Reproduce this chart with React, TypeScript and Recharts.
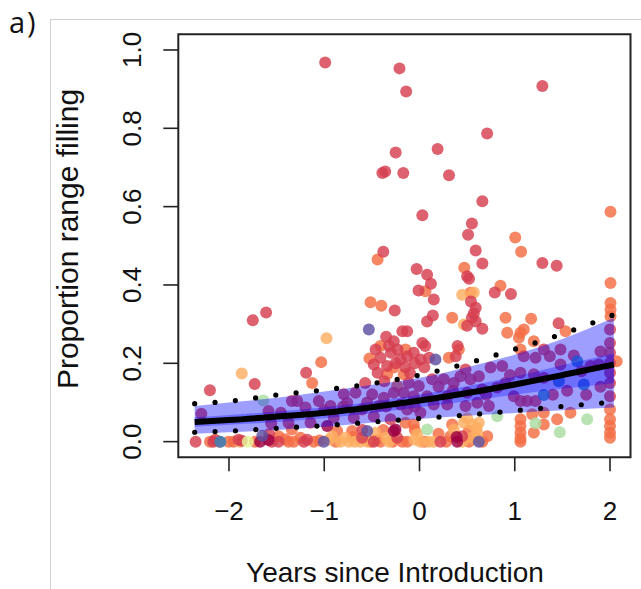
import { ComposedChart, Scatter, Area, Line, XAxis, YAxis, ReferenceArea } from "recharts";

// observed points, [years since introduction, proportion range filling]
const redPts: [number, number][] = [
  [-0.99, 0.968], [-0.21, 0.953], [-0.14, 0.894], [-0.25, 0.738], [-0.39, 0.686], [-0.36, 0.69],
  [-0.17, 0.686], [-0.38, 0.485], [1.29, 0.908], [0.71, 0.787], [0.19, 0.747], [0.31, 0.68],
  [0.66, 0.614], [0.03, 0.578], [0.55, 0.557], [0.51, 0.528], [0.59, 0.488], [0.66, 0.455],
  [-0.03, 0.441], [0.08, 0.426], [0.5, 0.422], [0.52, 0.416], [0.12, 0.403], [-0.01, 0.386],
  [0.79, 0.381], [0.96, 0.377], [0.15, 0.363], [0.54, 0.358], [0.59, 0.342], [0.57, 0.327],
  [0.14, 0.322], [0.08, 0.307], [0.55, 0.316], [0.59, 0.307], [0.5, 0.296], [0.66, 0.288],
  [-0.13, 0.282], [0.03, 0.252], [0.06, 0.244], [-0.06, 0.227], [-0.13, 0.218], [0.01, 0.21],
  [0.1, 0.214], [0.4, 0.244], [0.38, 0.218], [1.29, 0.456], [1.44, 0.449], [1.46, 0.302],
  [-1.61, 0.33], [-1.75, 0.31], [-1.73, 0.147], [-2.2, 0.131], [-0.26, 0.335], [-0.35, 0.268],
  [-0.27, 0.256], [-0.18, 0.282], [-0.46, 0.235], [-0.23, 0.235], [-0.3, 0.227], [-0.41, 0.214],
  [-0.2, 0.21], [-0.48, 0.197], [-0.34, 0.193], [-1.19, 0.176], [-0.44, 0.176], [-0.57, 0.15],
  [-0.37, 0.154], [-0.32, 0.245], [-0.25, 0.2], [-0.15, 0.19], [-0.05, 0.2], [0.05, 0.19],
  [-0.1, 0.175],
];

// red points that sit under the interval band
const midPts: [number, number][] = [
  [-2.29, 0.071], [-1.585, 0.078], [-1.557, 0.047], [-1.455, 0.074], [-1.34, 0.104], [-1.375, 0.048],
  [-1.284, 0.104], [-1.057, 0.104], [-0.795, 0.121], [-0.672, 0.125], [-0.497, 0.121], [-0.374, 0.112],
  [-0.27, 0.125], [-0.759, 0.099], [-0.934, 0.091], [-1.197, 0.087], [-0.602, 0.082], [-0.427, 0.091],
  [-0.2, 0.095], [-1.144, 0.048], [-0.9, 0.061], [-0.69, 0.061], [-0.48, 0.065], [-0.304, 0.057],
  [-0.112, 0.15], [-0.007, 0.142], [0.133, 0.159], [0.255, 0.159], [0.36, 0.15], [0.483, 0.184],
  [0.623, 0.167], [0.746, 0.189], [0.868, 0.193], [0.535, 0.159], [0.43, 0.167], [-0.165, 0.125],
  [-0.06, 0.116], [0.081, 0.116], [0.291, 0.116], [0.501, 0.125], [0.658, 0.133], [0.816, 0.138],
  [0.15, 0.095], [0.291, 0.095], [0.483, 0.091], [0.606, 0.099], [0.728, 0.091], [-0.129, 0.082],
  [0.01, 0.074], [1.095, 0.218], [1.218, 0.214], [1.305, 0.235], [1.368, 0.218], [1.48, 0.235],
  [1.48, 0.197], [1.795, 0.193], [1.882, 0.197], [1.06, 0.176], [1.2, 0.172], [1.305, 0.163],
  [0.99, 0.116], [1.13, 0.104], [1.218, 0.104], [1.06, 0.104], [2.0, 0.286], [2.0, 0.252],
  [2.0, 0.227], [2.0, 0.201], [2.0, 0.176], [2.0, 0.15], [2.0, 0.116],
  [1.62, 0.22], [1.7, 0.18], [1.9, 0.23], [1.55, 0.13], [1.75, 0.12], [1.9, 0.14], [1.4, 0.12],
  [0.9, 0.15], [0.7, 0.12], [0.95, 0.17], [-0.8, 0.09], [-1.0, 0.08], [-0.55, 0.1], [-0.35, 0.09],
  [-0.05, 0.09], [0.35, 0.13], [0.2, 0.14],
];

const redLowPts: [number, number][] = [
  [-2.35, 0.0], [-2.165, 0.0], [-2.145, 0.005], [-1.866, 0.002], [-1.578, 0.019], [-1.48, 0.0],
  [-1.214, 0.0], [-0.602, 0.01], [-0.234, 0.01], [0.448, 0.014], [-2.1, 0.0], [-1.9, 0.005],
  [-1.55, 0.0], [-1.18, 0.005], [-0.48, 0.0], [0.22, 0.0], [-0.6, 0.03],
];

const orangePts: [number, number][] = [
  [-0.44, 0.465], [2.005, 0.587], [1.005, 0.521], [1.067, 0.485], [-0.514, 0.356], [-0.4, 0.347],
  [-0.41, 0.244], [-0.525, 0.212], [-1.032, 0.203], [-1.127, 0.15], [-0.34, 0.172], [-0.165, 0.172],
  [-0.234, 0.142], [-0.27, 0.189], [0.47, 0.444], [0.063, 0.384], [0.535, 0.38], [0.85, 0.398],
  [0.343, 0.316], [0.903, 0.316], [0.921, 0.278], [-0.147, 0.235], [0.308, 0.214], [0.413, 0.235],
  [2.005, 0.405], [1.172, 0.314], [1.095, 0.286], [1.06, 0.278], [1.043, 0.265], [1.2, 0.256],
  [1.533, 0.282], [2.005, 0.354], [2.005, 0.337], [2.005, 0.32], [1.06, 0.235], [2.07, 0.205],
  [1.183, 0.07], [1.305, 0.074], [1.585, 0.074], [1.445, 0.057], [1.305, 0.044], [1.2, 0.023],
  [1.06, 0.057], [1.06, 0.04], [1.06, 0.023], [1.06, 0.008], [1.06, 0.0], [2.0, 0.082],
  [2.0, 0.057], [2.0, 0.04], [2.0, 0.023], [2.0, 0.01], [-0.147, 0.048], [-0.06, 0.044],
  [0.343, 0.044], [0.518, 0.027], [0.711, 0.014], [0.325, 0.014], [-1.34, 0.031], [-1.41, 0.006],
  [-0.864, 0.027], [-0.707, 0.027], [-1.32, 0.0], [-1.11, 0.0], [-0.514, 0.0], [-0.409, 0.0],
  [-0.18, 0.0], [-0.129, 0.0], [-2.2, 0.0], [-2.005, 0.0], [-1.953, 0.0], [-1.726, 0.0],
  [-1.375, 0.0], [-1.48, 0.014], [-1.05, 0.003], [-0.88, 0.0], [-0.45, 0.005], [-0.28, 0.0],
  [0.05, 0.0], [0.28, 0.0], [0.52, 0.0], [0.58, 0.012], [0.66, 0.0], [-0.7, 0.012],
  [-1.25, 0.01], [-0.05, 0.03], [0.2, 0.02], [-0.38, 0.03],
];

const lightOrangePts: [number, number][] = [
  [-0.976, 0.264], [-1.866, 0.174], [0.448, 0.375], [0.57, 0.381], [0.466, 0.299], [-0.917, 0.014],
  [-0.829, 0.0], [-0.742, 0.0], [-0.322, 0.0], [-0.462, 0.023], [-0.024, 0.019], [0.01, 0.0],
  [0.098, 0.0], [0.36, 0.031], [0.466, 0.048], [0.553, 0.044], [0.623, 0.048], [0.606, 0.023],
  [-1.883, 0.0], [-0.62, 0.0], [-0.05, 0.005], [0.55, 0.01], [0.62, 0.005], [-0.95, 0.005],
  [-0.78, 0.01], [-0.55, 0.0], [-0.35, 0.01], [0.15, 0.0], [0.45, 0.0], [0.6, 0.035],
  [0.5, 0.06], [-0.68, 0.0],
];

const darkRedPts: [number, number][] = [
  [-1.673, 0.0], [-1.585, 0.004], [-0.969, 0.04], [-0.27, 0.027], [-0.252, 0.031], [0.396, 0.0], [0.39, 0.012],
];
const purplePts: [number, number][] = [
  [-0.532, 0.286], [0.168, 0.21], [-1.005, 0.0], [-0.549, 0.027], [0.623, 0.0], [-1.65, 0.015],
];
const bluePts: [number, number][] = [[-2.09, 0.0], [1.656, 0.205], [1.463, 0.154], [1.725, 0.146], [1.305, 0.119]];
const greenPts: [number, number][] = [[-1.64, 0.105], [0.816, 0.065], [0.081, 0.031], [1.218, 0.047], [1.76, 0.057], [1.473, 0.024]];
const yellowPts: [number, number][] = [[-1.803, 0.0]];

// fitted curve, intervals and dotted bounds, read at these x positions
const curveX = [-2.36, -2, -1.5, -1, -0.5, 0, 0.5, 1, 1.5, 2.04];
const fitY = [0.05, 0.055, 0.064, 0.074, 0.088, 0.105, 0.124, 0.146, 0.17, 0.197];
const outerLo = [0.02, 0.024, 0.03, 0.038, 0.048, 0.058, 0.066, 0.073, 0.08, 0.087];
const outerHi = [0.091, 0.1, 0.112, 0.128, 0.145, 0.163, 0.19, 0.222, 0.262, 0.316];
const innerLo = [0.038, 0.043, 0.05, 0.06, 0.073, 0.088, 0.103, 0.12, 0.135, 0.15];
const innerHi = [0.062, 0.068, 0.077, 0.088, 0.102, 0.12, 0.142, 0.166, 0.195, 0.225];
const dotHi = [0.097, 0.103, 0.119, 0.132, 0.148, 0.17, 0.2, 0.236, 0.275, 0.324];
const dotLo = [0.024, 0.027, 0.034, 0.041, 0.05, 0.059, 0.068, 0.079, 0.09, 0.101];

const xTicks = [-2, -1, 0, 1, 2];
const yTicks = [0, 0.2, 0.4, 0.6, 0.8, 1.0];

const FONT = "'Liberation Sans', Arial, sans-serif";

const toPts = (a: [number, number][]) => a.map(([x, y]) => ({ x, y }));

const curveData = curveX.map((x, i) => ({
  x,
  fit: fitY[i],
  outer: [outerLo[i], outerHi[i]],
  inner: [innerLo[i], innerHi[i]],
  hi: dotHi[i],
  lo: dotLo[i],
}));

const series = [
  { pts: orangePts, color: "#f46d43" },
  { pts: lightOrangePts, color: "#fdae61" },
  { pts: redLowPts, color: "#d53e4f" },
  { pts: redPts, color: "#d53e4f" },
  { pts: midPts, color: "#d53e4f" },
  { pts: darkRedPts, color: "#9e0142" },
  { pts: purplePts, color: "#5e4fa2" },
  { pts: bluePts, color: "#3288bd" },
  { pts: greenPts, color: "#abdda4" },
  { pts: yellowPts, color: "#e6f598" },
];

const XTick = ({ x, payload }: any) => (
  <text x={x} y={520} textAnchor="middle" fontSize={26} fontFamily={FONT} fill="#111">
    {payload.value < 0 ? "\u2212" + Math.abs(payload.value) : String(payload.value)}
  </text>
);

const YTick = ({ y, payload }: any) => (
  <text
    x={141.5}
    y={y}
    transform={`rotate(-90 141.5 ${y})`}
    textAnchor="middle"
    fontSize={26}
    fontFamily={FONT}
    fill="#111"
  >
    {payload.value.toFixed(1)}
  </text>
);

export default function App() {
  return (
    <div style={{ position: "absolute", left: 0, top: 0, width: 641, height: 589, background: "#fff" }}>
      <div
        style={{
          position: "absolute",
          left: 50,
          top: 19,
          width: 600,
          height: 580,
          borderLeft: "1px solid #cfcfcf",
          borderTop: "1px solid #cfcfcf",
        }}
      />
      <div
        style={{
          position: "absolute",
          left: 9,
          top: 7,
          fontFamily: "'Open Sans', sans-serif",
          fontSize: 29,
          lineHeight: 1,
          letterSpacing: 2,
          color: "#111",
        }}
      >
        a)
      </div>
      <div style={{ position: "absolute", left: 0, top: 0 }}>
        <ComposedChart width={641} height={589} margin={{ top: 34.3, right: 10.5, left: 0, bottom: 71.7 }}>
          <XAxis
            type="number"
            dataKey="x"
            domain={[-2.532, 2.215]}
            ticks={xTicks}
            allowDataOverflow
            height={60}
            axisLine={false}
            tickSize={14}
            tickLine={{ stroke: "#222", strokeWidth: 1.6 }}
            tick={<XTick />}
            label={{
              content: () => (
                <text x={395} y={582} textAnchor="middle" fontSize={28} fontFamily={FONT} fill="#111">
                  Years since Introduction
                </text>
              ),
            }}
          />
          <YAxis
            type="number"
            domain={[-0.04, 1.04]}
            ticks={yTicks}
            allowDataOverflow
            width={178.3}
            axisLine={false}
            tickSize={15}
            tickLine={{ stroke: "#222", strokeWidth: 1.6 }}
            tick={<YTick />}
            label={{
              content: () => (
                <text
                  x={78}
                  y={239}
                  transform="rotate(-90 78 239)"
                  textAnchor="middle"
                  fontSize={30}
                  fontFamily={FONT}
                  fill="#111"
                >
                  Proportion range filling
                </text>
              ),
            }}
          />
          {series.map((s, i) => (
            <Scatter
              key={i}
              data={toPts(s.pts)}
              dataKey="y"
              zIndex={100}
              isAnimationActive={false}
              shape={(p: any) => <circle cx={p.cx} cy={p.cy} r={6} fill={s.color} fillOpacity={0.82} />}
            />
          ))}
          <Area
            data={curveData}
            dataKey="outer"
            type="monotone"
            stroke="none"
            fill="#0000ff"
            fillOpacity={0.38}
            zIndex={200}
            isAnimationActive={false}
          />
          <Area
            data={curveData}
            dataKey="inner"
            type="monotone"
            stroke="none"
            fill="#0000ff"
            fillOpacity={0.3}
            zIndex={210}
            isAnimationActive={false}
          />
          <Line
            data={curveData}
            dataKey="fit"
            type="monotone"
            stroke="#000"
            strokeWidth={6}
            dot={false}
            zIndex={300}
            isAnimationActive={false}
          />
          <Line
            data={curveData}
            dataKey="hi"
            type="monotone"
            stroke="#000"
            strokeWidth={5.2}
            strokeDasharray="0 20.4"
            strokeLinecap="round"
            dot={false}
            zIndex={300}
            isAnimationActive={false}
          />
          <Line
            data={curveData}
            dataKey="lo"
            type="monotone"
            stroke="#000"
            strokeWidth={5.2}
            strokeDasharray="0 20.4"
            strokeLinecap="round"
            dot={false}
            zIndex={300}
            isAnimationActive={false}
          />
          <ReferenceArea
            x1={-2.532}
            x2={2.215}
            y1={-0.04}
            y2={1.04}
            fill="none"
            stroke="#222"
            strokeWidth={2}
            zIndex={400}
          />
        </ComposedChart>
      </div>
    </div>
  );
}
